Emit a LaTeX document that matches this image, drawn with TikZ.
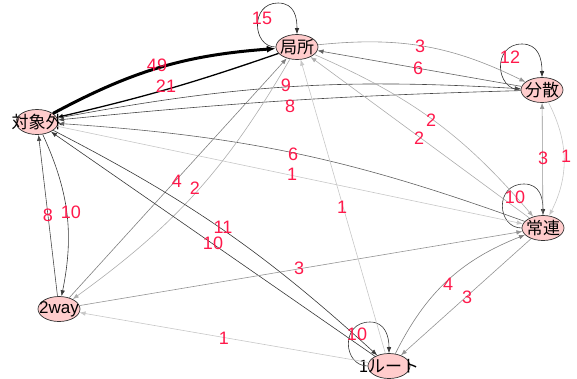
\documentclass[tikz,border=0pt]{standalone}
\usepackage{fontspec}
\setmainfont{Liberation Sans}
\newfontfamily\jp{Noto Sans CJK JP}
\usetikzlibrary{arrows.meta,shapes.geometric}
\definecolor{labred}{RGB}{255,25,75}
\definecolor{nodefill}{RGB}{255,204,204}
\begin{document}
\begin{tikzpicture}[x=1pt,y=1pt,
  vtx/.style={ellipse, draw=black!80, line width=0.7pt, fill=nodefill, minimum width=42pt, minimum height=25pt, inner sep=0pt, font=\fontsize{17}{17}\selectfont},
  lab/.style={text=labred, font=\fontsize{18}{18}\selectfont, inner sep=0pt},
  ed/.style={-{Latex[length=6pt,width=4.5pt]}, line width=0.6pt},
  w1/.style={ed, draw=black!22},
  w2/.style={ed, draw=black!32},
  w3/.style={ed, draw=black!42},
  w4/.style={ed, draw=black!50},
  w6/.style={ed, draw=black!62},
  w8/.style={ed, draw=black!72},
  w10/.style={ed, draw=black!78},
  w12/.style={ed, draw=black!82},
  w21/.style={ed, draw=black, line width=1.3pt},
  w49/.style={-{Latex[length=9pt,width=7pt]}, draw=black, line width=3pt},
]
\useasboundingbox (0,0) rectangle (577,-378);

\node[vtx] (L) at (297,-47) {\makebox[0pt]{\jp 局所}};
\node[vtx] (B) at (542,-90) {\makebox[0pt]{\jp 分散}};
\node[vtx] (T) at (37,-122) {\makebox[0pt]{\jp 対象外}};
\node[vtx] (J) at (543,-228) {\makebox[0pt]{\jp 常連}};
\node[vtx] (W) at (59,-309) {\makebox[0pt]{2way}};
\node[vtx] (R) at (389,-366) {\makebox[0pt]{\jp 1ルート}};

% self loops
\draw[w12] (L.west) .. controls (252,-47) and (250,-3) .. (278,-3) .. controls (295,-3) and (297,-18) .. (L.north);
\draw[w12] (B.west) .. controls (495,-90) and (492,-44) .. (522,-44) .. controls (538,-44) and (542,-58) .. (B.north);
\draw[w10] (J.west) .. controls (497,-228) and (494,-184) .. (524,-184) .. controls (540,-184) and (543,-198) .. (J.north);
\draw[w10] (R.west) .. controls (343,-366) and (340,-322) .. (370,-322) .. controls (385,-322) and (389,-336) .. (R.north);

% edges
\draw[w49] (T) to[bend left=12] (L);
\draw[w21] (L) to[bend left=3] (T);
\draw[w8] (T) to[bend left=7] (B);
\draw[w8] (B) to[bend right=2] (T);
\draw[w3] (L) to[bend left=16] (B);
\draw[w6] (B) to (L);
\draw[w2] (L) to[bend left=13] (J);
\draw[w2] (J) to (L);
\draw[w1] (B) to[bend left=27] (J);
\draw[w3] (J) to (B);
\draw[w6] (J) to[bend right=8] (T);
\draw[w1] (T) to (J);
\draw[w10] (T) to[bend left=18] (W);
\draw[w8] (W) to (T);
\draw[w4] (W) to (L);
\draw[w2] (L) to[bend left=12] (W);
\draw[w10] (T) to[bend left=7.5] (R);
\draw[w10] (R) to (T);
\draw[w3] (W) to (J);
\draw[w1] (R) to (W);
\draw[w1] (R) to (L);
\draw[w4] (R) to[bend left=21] (J);
\draw[w3] (J) to (R);

% labels
\node[lab] (l15) at (262,-18) {15};
\node[lab] (l49) at (157,-65) {49};
\node[lab] (l21) at (166,-86) {21};
\node[lab] (l9) at (286,-85) {9};
\node[lab] (l8a) at (290,-106) {8};
\node[lab] (l3a) at (420,-46) {3};
\node[lab] (l6a) at (418,-68) {6};
\node[lab] (l12) at (510,-57) {12};
\node[lab] (l2a) at (431,-120) {2};
\node[lab] (l2b) at (419,-138) {2};
\node[lab] (l3b) at (543,-158) {3};
\node[lab] (l1a) at (566,-156) {1};
\node[lab] (l6b) at (293,-154) {6};
\node[lab] (l1b) at (292,-174) {1};
\node[lab] (l10a) at (515,-197) {10};
\node[lab] (l4a) at (177,-181) {4};
\node[lab] (l2c) at (195,-188) {2};
\node[lab] (l1c) at (342,-207) {1};
\node[lab] (l8b) at (48,-215) {8};
\node[lab] (l10b) at (71,-212) {10};
\node[lab] (l11) at (223,-227) {11};
\node[lab] (l10c) at (213,-243) {10};
\node[lab] (l3c) at (299,-268) {3};
\node[lab] (l4b) at (448,-284) {4};
\node[lab] (l3d) at (467,-297) {3};
\node[lab] (l1d) at (224,-338) {1};
\node[lab] (l10d) at (357,-334) {10};
\end{tikzpicture}
\end{document}
